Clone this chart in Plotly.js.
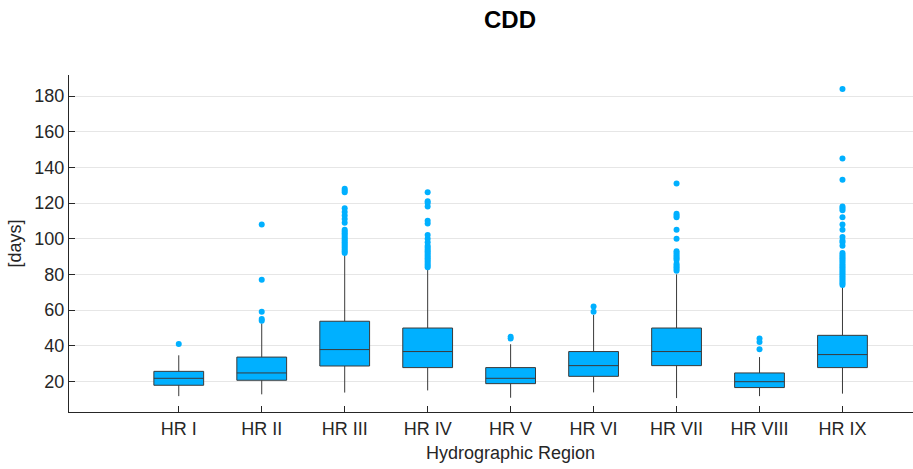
<!DOCTYPE html>
<html>
<head>
<meta charset="utf-8">
<script src="https://cdn.plot.ly/plotly-3.0.1.min.js"></script>
<style>
  html, body { margin: 0; padding: 0; background: #ffffff; }
  #chart { width: 913px; height: 469px; }
</style>
</head>
<body>
<div id="chart"></div>
<script>
// Consecutive dry days (CDD) per hydrographic region: box statistics
const regions = ['HR I', 'HR II', 'HR III', 'HR IV', 'HR V', 'HR VI', 'HR VII', 'HR VIII', 'HR IX'];
const q1Days      = [17.8, 20.6, 28.6, 27.7, 18.7, 22.8, 28.8, 16.5, 27.7];
const medianDays  = [21.7, 24.7, 37.8, 36.7, 21.7, 28.8, 36.7, 19.8, 35.0];
const q3Days      = [25.6, 33.6, 53.7, 49.9, 27.7, 36.7, 49.9, 24.7, 45.8];
const lowerWhisker = [11.7, 12.7, 13.7, 14.9, 10.8, 13.8, 10.6, 11.7, 13.1];
const upperWhisker = [34.6, 52.5, 90.7, 83.3, 40.8, 57.2, 80.0, 33.6, 73.0];

// Outlying values per region
const outliersHR1 = [41];
const outliersHR2 = [54, 55, 59, 77, 108];
const outliersHR3 = [92, 93, 94, 95, 96, 97, 98, 99, 100, 101, 102, 103, 104, 105, 109, 111, 113, 115, 117, 126, 127, 128];
const outliersHR4 = [84, 85, 86, 87, 88, 89, 90, 91, 92, 93, 94, 95, 96, 98, 100, 102, 108.5, 110, 118, 120, 121, 126];
const outliersHR5 = [44, 45];
const outliersHR6 = [59, 62];
const outliersHR7 = [82, 83, 84, 85, 86, 88, 89, 90, 91, 92, 93, 100, 105, 112, 113, 114, 131];
const outliersHR8 = [38, 42, 44];
const outliersHR9 = [74, 75, 76, 77, 78, 79, 80, 81, 82, 83, 84, 85, 86, 87, 88, 89, 90, 91, 92, 96, 98, 99, 101, 105, 108, 112, 116, 117, 118, 133, 145, 184];

const outlierGroups = [outliersHR1, outliersHR2, outliersHR3, outliersHR4, outliersHR5,
                       outliersHR6, outliersHR7, outliersHR8, outliersHR9];

const fillBlue = '#00B0FF';
const edgeGray = '#3a3a3a';
const axisGray = '#262626';

const outX = [], outY = [];
outlierGroups.forEach((vals, i) => {
  vals.forEach(v => { outX.push(regions[i]); outY.push(v); });
});

const boxes = {
  type: 'box',
  x: regions,
  q1: q1Days,
  median: medianDays,
  q3: q3Days,
  lowerfence: lowerWhisker,
  upperfence: upperWhisker,
  boxpoints: false,
  width: 0.6,
  whiskerwidth: 0,
  fillcolor: fillBlue,
  line: { color: edgeGray, width: 1 },
  hoverinfo: 'skip',
  showlegend: false
};

const outliers = {
  type: 'scatter',
  mode: 'markers',
  x: outX,
  y: outY,
  marker: { color: fillBlue, size: 6 },
  hoverinfo: 'skip',
  showlegend: false
};

const layout = {
  width: 913,
  height: 469,
  margin: { l: 69, r: 0, t: 75, b: 57 },
  paper_bgcolor: '#ffffff',
  plot_bgcolor: '#ffffff',
  font: { family: 'Liberation Sans, Arial, sans-serif', color: axisGray },
  title: {
    text: '<b>CDD</b>',
    font: { size: 24, color: '#000000' },
    x: 510 / 913, xanchor: 'center', xref: 'container',
    y: 1 - 20 / 469, yanchor: 'middle', yref: 'container'
  },
  xaxis: {
    type: 'category',
    categoryorder: 'array',
    categoryarray: regions,
    range: [-1.323, 8.85],
    showline: true,
    linecolor: axisGray,
    linewidth: 1,
    ticks: 'inside',
    ticklen: 6,
    tickcolor: axisGray,
    showgrid: false,
    zeroline: false,
    tickfont: { size: 18, color: axisGray },
    fixedrange: true
  },
  yaxis: {
    range: [2.8, 191.8],
    tickvals: [20, 40, 60, 80, 100, 120, 140, 160, 180],
    showline: true,
    linecolor: axisGray,
    linewidth: 1,
    ticks: 'inside',
    ticklen: 6,
    tickcolor: axisGray,
    showgrid: true,
    gridcolor: '#e6e6e6',
    gridwidth: 1,
    zeroline: false,
    tickfont: { size: 18, color: axisGray },
    title: { text: '[days]', font: { size: 18, color: axisGray }, standoff: 8 },
    fixedrange: true
  },
  annotations: [{
    text: 'Hydrographic Region',
    xref: 'paper', yref: 'paper',
    x: (510 - 69) / 844, y: -(453 - 412) / 337,
    xanchor: 'center', yanchor: 'middle',
    showarrow: false,
    font: { size: 18, color: axisGray }
  }]
};

Plotly.newPlot('chart', [boxes, outliers], layout, { displayModeBar: false, staticPlot: true });
</script>
</body>
</html>
